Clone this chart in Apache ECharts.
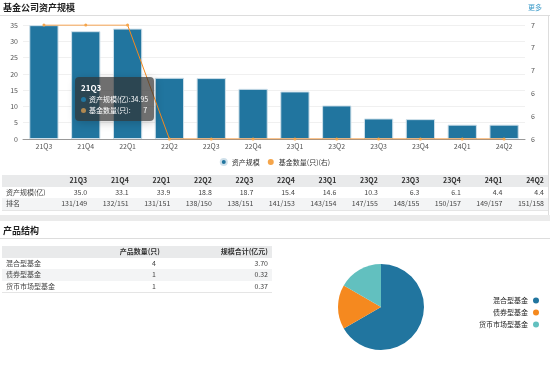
<!DOCTYPE html>
<html><head><meta charset="utf-8">
<script src="https://cdn.jsdelivr.net/npm/echarts@6/dist/echarts.min.js"></script>
<style>
html,body{margin:0;padding:0;background:#fff;width:550px;height:367px;overflow:hidden;font-family:"Noto Sans CJK SC","Noto Sans",sans-serif;}
#chart{position:absolute;left:0;top:0;width:550px;height:367px;}
.ov{position:absolute;font-size:7px;color:#333;}
table{border-collapse:collapse;font-size:7px;color:#444;}
td,th{padding:0 4px;height:11.5px;line-height:11.5px;white-space:nowrap;}
th{font-weight:bold;color:#333;}
</style></head>
<body>
<div id="chart"></div>
<div class="ov" style="left:3px;top:1px;font-size:9px;font-weight:bold;color:#222;">基金公司资产规模</div>
<div class="ov" style="left:528px;top:2px;font-size:7px;color:#3a9ac9;">更多</div>
<div class="ov" style="left:0;top:15px;width:550px;height:1px;background:#ddd;"></div>
<div class="ov" style="left:548px;top:16px;width:1px;height:205px;background:#ddd;"></div>
<div class="ov" id="t1" style="left:2px;top:175px;width:546px;"></div>
<div class="ov" style="left:0;top:215px;width:550px;height:6px;background:#ebebeb;"></div>
<div class="ov" style="left:3px;top:224px;font-size:9px;font-weight:bold;color:#222;">产品结构</div>
<div class="ov" style="left:0;top:238px;width:550px;height:1px;background:#ddd;"></div>
<div class="ov" id="t2" style="left:2px;top:246px;width:270px;"></div>
<script>
var quarters = ['21Q3','21Q4','22Q1','22Q2','22Q3','22Q4','23Q1','23Q2','23Q3','23Q4','24Q1','24Q2'];
var assetScale = [34.95,33.1,33.9,18.8,18.7,15.4,14.6,10.3,6.3,6.1,4.4,4.4];
var fundCount = [7,7,7,6,6,6,6,6,6,6,6,6];
var ranks = ['131/149','132/151','131/151','138/150','138/151','141/153','143/154','147/155','148/155','150/157','149/157','151/158'];
var productTypes = ['混合型基金','债券型基金','货币市场型基金'];
var productCounts = [4,1,1];
var productScales = ['3.70','0.32','0.37'];

(function(){
  var h = '<table style="width:100%"><tr style="background:#e9eaeb"><th style="text-align:left;width:38px"></th>';
  quarters.forEach(function(q){h+='<th style="text-align:right">'+q+'</th>';});
  h += '</tr><tr><td style="text-align:left">资产规模(亿)</td>';
  assetScale.forEach(function(v){h+='<td style="text-align:right">'+v.toFixed(1)+'</td>';});
  h += '</tr><tr style="background:#f3f4f5;border-bottom:1px solid #e5e5e5"><td style="text-align:left">排名</td>';
  ranks.forEach(function(v){h+='<td style="text-align:right">'+v+'</td>';});
  h += '</tr></table>';
  document.getElementById('t1').innerHTML = h;
  var g = '<table style="width:100%"><tr style="background:#e9eaeb"><th style="text-align:left"></th><th style="text-align:right;width:60px">产品数量(只)</th><th style="text-align:right;width:100px">规模合计(亿元)</th></tr>';
  productTypes.forEach(function(t,i){
    g += '<tr style="'+(i%2==1?'background:#f3f4f5;':'')+(i==productTypes.length-1?'border-bottom:1px solid #e5e5e5;':'')+'"><td style="text-align:left">'+t+'</td><td style="text-align:right;padding-right:8px">'+productCounts[i]+'</td><td style="text-align:right">'+productScales[i]+'</td></tr>';
  });
  g += '</table>';
  document.getElementById('t2').innerHTML = g;
})();

var chart = echarts.init(document.getElementById('chart'));
var fs = 7;
chart.setOption({
  animation:false,
  textStyle:{fontFamily:'"Noto Sans CJK SC","Noto Sans",sans-serif'},
  tooltip:{
    trigger:'axis', alwaysShowContent:true, triggerOn:'none',
    axisPointer:{type:'none'},
    position:[75,77],
    backgroundColor:'rgba(50,50,50,0.7)', borderWidth:0, padding:[5,6],
    textStyle:{color:'#fff',fontSize:7},
    formatter:function(ps){
      var s='<div style="font-weight:bold;font-size:8px;line-height:12px">'+ps[0].name+'</div>';
      s+='<div style="line-height:11px"><span style="display:inline-block;width:5px;height:5px;border-radius:3px;background:#21759f;margin-right:3px"></span>资产规模(亿):'+ps[0].value+'</div>';
      s+='<div style="line-height:11px"><span style="display:inline-block;width:5px;height:5px;border-radius:3px;background:#b08850;margin-right:3px"></span>基金数量(只):&nbsp;&nbsp;&nbsp;&nbsp;&nbsp;&nbsp;&nbsp;&nbsp;'+ps[1].value+'</div>';
      return s;
    }
  },
  legend:[{
    data:['资产规模','基金数量(只)(右)'],
    left:'center', top:153, itemWidth:6, itemHeight:6, itemGap:8, icon:'circle',
    textStyle:{fontSize:fs,color:'#333'}
  },{
    data:productTypes, orient:'vertical', right:6, top:292, align:'right',
    itemWidth:6, itemHeight:6, itemGap:5, icon:'circle',
    textStyle:{fontSize:fs,color:'#222'}
  }],
  grid:{left:23,right:25,top:25,height:114},
  xAxis:{type:'category',data:quarters,
    axisLine:{lineStyle:{color:'#999'}}, axisTick:{show:false},
    axisLabel:{fontSize:fs,color:'#555',margin:4}},
  yAxis:[{type:'value',min:0,max:35,interval:5,
    axisLine:{show:false},axisTick:{show:false},
    axisLabel:{fontSize:fs,color:'#555',margin:5},
    splitLine:{lineStyle:{color:'#f0f0f0'}}},
   {type:'value',min:6,max:7,interval:0.2,
    axisLine:{show:false},axisTick:{show:false},
    axisLabel:{fontSize:fs,color:'#555',margin:6,formatter:function(v){return Math.round(v);}},
    splitLine:{show:false}}],
  color:['#21759f','#f5891f','#62c0bf'],
  series:[{
    name:'资产规模',type:'bar',data:assetScale,barWidth:'70%',
    itemStyle:{color:'#21759f',borderColor:'#cfe0ea',borderWidth:1},
    emphasis:{disabled:true}
  },{
    name:'基金数量(只)(右)',type:'line',yAxisIndex:1,data:fundCount,
    symbol:'circle',symbolSize:3,
    lineStyle:{color:'#f5891f',width:1},itemStyle:{color:'#f5a54a'},
    emphasis:{disabled:true,scale:false}
  },{
    name:'产品结构',type:'pie',center:[381,307],radius:43,startAngle:90,
    label:{show:false},labelLine:{show:false},
    data:productTypes.map(function(t,i){return {name:t,value:productCounts[i]};}),
    itemStyle:{borderWidth:0}
  }]
});
chart.dispatchAction({type:'showTip',seriesIndex:0,dataIndex:0});
</script>
</body></html>
